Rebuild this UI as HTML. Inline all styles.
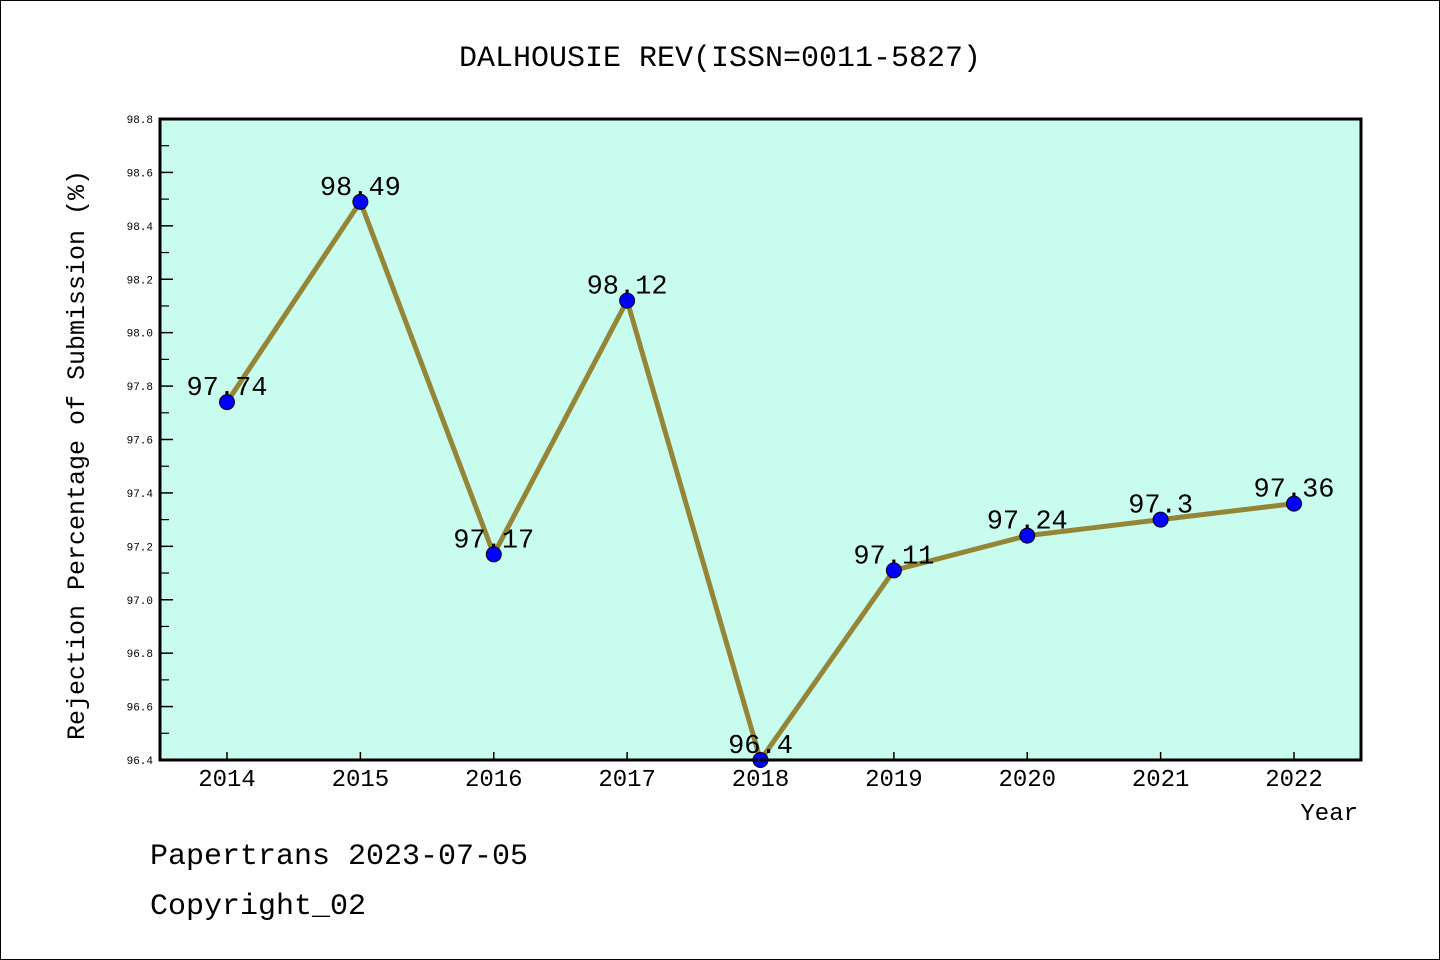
<!DOCTYPE html>
<html><head><meta charset="utf-8"><style>
body{margin:0;background:#fff}
svg{display:block;font-family:"Liberation Mono",monospace}
</style></head><body>
<svg width="1440" height="960">
<rect x="0.5" y="0.5" width="1439" height="959" fill="#fff" stroke="#000"/>
<text x="720" y="66" font-size="30" text-anchor="middle">DALHOUSIE REV(ISSN=0011-5827)</text>
<rect x="160" y="119" width="1201" height="641" fill="#c8fcee"/>
<g id="ticks"></g>
<g id="series"></g>
<rect x="160" y="119" width="1201" height="641" fill="none" stroke="#000" stroke-width="3"/>
<text x="84" y="455" font-size="25" text-anchor="middle" transform="rotate(-90 84 455)">Rejection Percentage of Submission (%)</text>
<text x="1358" y="820" font-size="24" text-anchor="end">Year</text>
<text x="150" y="864" font-size="30">Papertrans 2023-07-05</text>
<text x="150" y="914" font-size="30">Copyright_02</text>
</svg>
<script>
const years=["2014","2015","2016","2017","2018","2019","2020","2021","2022"];
const values=[97.74,98.49,97.17,98.12,96.4,97.11,97.24,97.3,97.36];
const valueLabels=["97.74","98.49","97.17","98.12","96.4","97.11","97.24","97.3","97.36"];
const yTicks=[96.4,96.6,96.8,97.0,97.2,97.4,97.6,97.8,98.0,98.2,98.4,98.6,98.8];
const NS="http://www.w3.org/2000/svg";
const yMin=96.4,yMax=98.8;
const y=v=>760-(v-yMin)/(yMax-yMin)*641;
const x=i=>227+i*(1294-227)/(years.length-1);
function mk(t,a,p){const e=document.createElementNS(NS,t);for(const k in a)e.setAttribute(k,a[k]);p.appendChild(e);return e;}
const tg=document.getElementById('ticks'),sg=document.getElementById('series');
yTicks.forEach((v,i)=>{
 const l=mk('line',{x1:160,x2:173,y1:y(v),y2:y(v),stroke:'#000','stroke-width':1.5},tg);
 
 
 if(i<yTicks.length-1){const m=mk('line',{x1:160,x2:169,y1:(y(v)+y(yTicks[i+1]))/2,y2:(y(v)+y(yTicks[i+1]))/2,stroke:'#000','stroke-width':1.2},tg);
 
 }
 const t=mk('text',{x:153,y:y(v)+4,'font-size':11,'text-anchor':'end'},tg);t.textContent=v.toFixed(1);
 
 
});
years.forEach((yr,i)=>{
 const l=mk('line',{x1:x(i),x2:x(i),y1:760,y2:752,stroke:'#000','stroke-width':1.5},tg);
 
 
 const t=mk('text',{x:x(i),y:786,'font-size':24,'text-anchor':'middle'},tg);t.textContent=yr;
 
 
});
const pl=mk('polyline',{points:values.map((v,i)=>x(i)+','+y(v)).join(' '),fill:'none',stroke:'#948537','stroke-width':5},sg);


values.forEach((v,i)=>{
 const c=mk('circle',{cx:x(i),cy:y(v),r:7.5,fill:'#0000ff',stroke:'#000','stroke-width':1},sg);
 
 
 const t=mk('text',{x:x(i),y:y(v)-7,'font-size':27,'text-anchor':'middle'},sg);t.textContent=valueLabels[i];
 
 
});
</script>
</body></html>
